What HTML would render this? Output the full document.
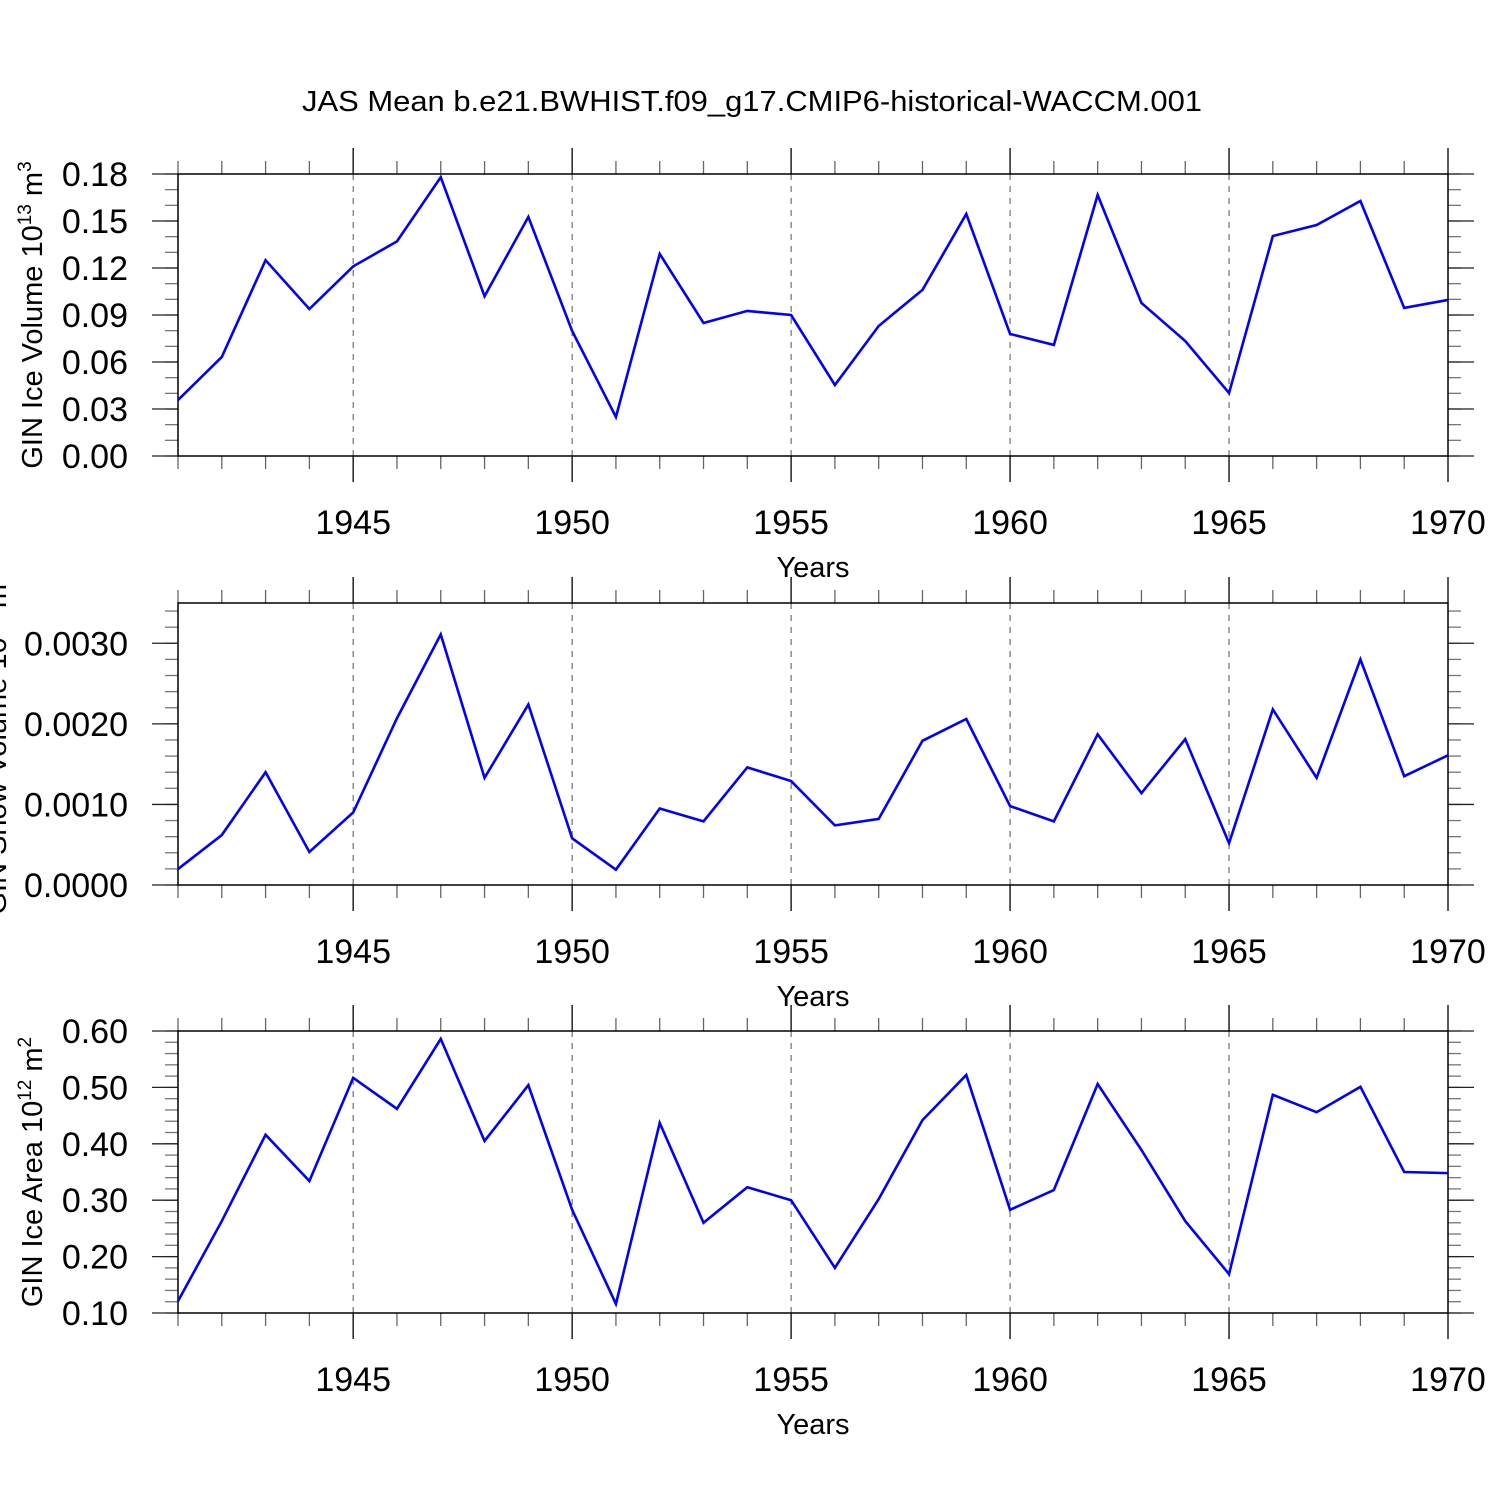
<!DOCTYPE html>
<html><head><meta charset="utf-8"><style>
html,body{margin:0;padding:0;background:#fff;}
svg{display:block;font-family:"Liberation Sans",sans-serif;}
</style></head><body>
<svg id="chart" width="1500" height="1500" viewBox="0 0 1500 1500" xmlns="http://www.w3.org/2000/svg">
<rect width="1500" height="1500" fill="#fff"/>
<text x="752" y="111" text-anchor="middle" font-size="29" textLength="900" lengthAdjust="spacingAndGlyphs">JAS Mean b.e21.BWHIST.f09_g17.CMIP6-historical-WACCM.001</text>
</svg>
<script>
const years = [1941,1942,1943,1944,1945,1946,1947,1948,1949,1950,1951,1952,1953,1954,1955,1956,1957,1958,1959,1960,1961,1962,1963,1964,1965,1966,1967,1968,1969,1970];
const iceVolume = [0.0357,0.0632,0.125,0.0938,0.121,0.137,0.178,0.102,0.1526,0.0798,0.0249,0.129,0.0849,0.0926,0.090,0.0453,0.083,0.106,0.1545,0.0779,0.0709,0.1666,0.0977,0.0734,0.0402,0.1404,0.1474,0.1628,0.0945,0.0996];
const snowVolume = [0.000198,0.00062,0.0014,0.00041,0.0009,0.00207,0.00311,0.00133,0.00224,0.00058,0.00019,0.00095,0.00079,0.00146,0.00129,0.00074,0.00082,0.00179,0.00206,0.00098,0.00079,0.00187,0.00114,0.00181,0.00052,0.00218,0.00133,0.0028,0.00135,0.00161];
const iceArea = [0.121,0.263,0.416,0.334,0.517,0.462,0.586,0.405,0.504,0.283,0.116,0.437,0.26,0.323,0.30,0.18,0.302,0.442,0.522,0.283,0.318,0.506,0.389,0.263,0.169,0.487,0.456,0.501,0.35,0.348];
const xTickLabels = ["1945","1950","1955","1960","1965","1970"];
const ticks1 = ["0.00","0.03","0.06","0.09","0.12","0.15","0.18"];
const ticks2 = ["0.0000","0.0010","0.0020","0.0030"];
const ticks3 = ["0.10","0.20","0.30","0.40","0.50","0.60"];

const NS="http://www.w3.org/2000/svg";
const svg=document.getElementById('chart');
function mk(tag,attrs,parent){const e=document.createElementNS(NS,tag);for(const k in attrs)e.setAttribute(k,attrs[k]);(parent||svg).appendChild(e);return e;}

const X0=178,X1=1448,YR0=1941,YR1=1970;
const xs=y=>X0+(y-YR0)/(YR1-YR0)*(X1-X0);

function panel(cfg){
  const g=mk('g',{});
  
  
  const ys=v=>cfg.bot-(v-cfg.min)/(cfg.max-cfg.min)*(cfg.bot-cfg.top);
  for(let yr=1945;yr<1970;yr+=5){
    const l=mk('line',{x1:xs(yr),x2:xs(yr),y1:cfg.top,y2:cfg.bot,stroke:'#555','stroke-width':1,'stroke-dasharray':'6,6'},g);
    
    
  }
  for(let yr=YR0;yr<=YR1;yr++){
    const maj=yr%5===0, len=maj?26:13;
    mk('line',{x1:xs(yr),x2:xs(yr),y1:cfg.top-len,y2:cfg.top,stroke:maj?'#000':'#666','stroke-width':1.3},g);
    mk('line',{x1:xs(yr),x2:xs(yr),y1:cfg.bot,y2:cfg.bot+len,stroke:maj?'#000':'#666','stroke-width':1.3},g);
  }
  xTickLabels.forEach(s=>{
    const t=mk('text',{x:xs(+s),y:cfg.bot+78,'text-anchor':'middle','font-size':34},g);
    t.textContent=s;
    
    
  });
  const xt=mk('text',{x:813,y:cfg.bot+121,'text-anchor':'middle','font-size':29},g);
  xt.textContent='Years';
  
  
  for(let v=cfg.min;v<=cfg.max+1e-12;v+=cfg.minor){
    mk('line',{x1:X0-13,x2:X0,y1:ys(v),y2:ys(v),stroke:'#777','stroke-width':1.3},g);
    mk('line',{x1:X1,x2:X1+13,y1:ys(v),y2:ys(v),stroke:'#777','stroke-width':1.3},g);
  }
  cfg.ticks.forEach(s=>{
    const v=+s,y=ys(v);
    mk('line',{x1:X0-26,x2:X0,y1:y,y2:y,stroke:'#222','stroke-width':1.3},g);
    mk('line',{x1:X1,x2:X1+26,y1:y,y2:y,stroke:'#222','stroke-width':1.3},g);
    const t=mk('text',{x:128,y:y+12,'text-anchor':'end','font-size':34},g);
    t.textContent=s;
    
    
  });
  const f=mk('rect',{x:X0,y:cfg.top,width:X1-X0,height:cfg.bot-cfg.top,fill:'none',stroke:'#000','stroke-width':1.5},g);
  
  
  const pts=years.map((yr,i)=>xs(yr)+','+ys(cfg.data[i])).join(' ');
  const pl=mk('polyline',{points:pts,fill:'none',stroke:'#0000ff','stroke-width':2.6,'stroke-linejoin':'miter'},g);
  
  
  const yt=mk('text',{transform:`translate(${cfg.tx},${(cfg.top+cfg.bot)/2}) rotate(-90)`,'text-anchor':'middle','font-size':29},g);
  yt.innerHTML=cfg.title;
  
  
}
panel({name:'ice-volume-panel',top:174,bot:456,min:0,max:0.18,minor:0.01,ticks:ticks1,data:iceVolume,tx:42,
  title:'GIN Ice Volume 10<tspan dy="-11" font-size="19">13</tspan><tspan dy="11"> m</tspan><tspan dy="-11" font-size="19">3</tspan>'});
panel({name:'snow-volume-panel',top:603,bot:885,min:0,max:0.0035,minor:0.0002,ticks:ticks2,data:snowVolume,tx:6,
  title:'GIN Snow Volume 10<tspan dy="-11" font-size="19">12</tspan><tspan dy="11"> m</tspan><tspan dy="-11" font-size="19">3</tspan>'});
panel({name:'ice-area-panel',top:1031,bot:1313,min:0.1,max:0.6,minor:0.02,ticks:ticks3,data:iceArea,tx:42,
  title:'GIN Ice Area 10<tspan dy="-11" font-size="19">12</tspan><tspan dy="11"> m</tspan><tspan dy="-11" font-size="19">2</tspan>'});
</script>
</body></html>
